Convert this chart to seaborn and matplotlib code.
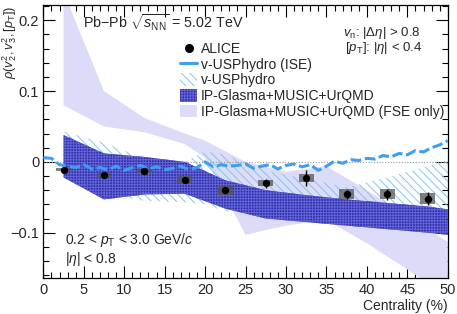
import numpy as np
import pandas as pd
import seaborn as sns
import matplotlib.pyplot as plt
from matplotlib.patches import Patch
from matplotlib.lines import Line2D
from matplotlib.ticker import MultipleLocator

# ALICE data
cent = [2.5, 7.5, 12.5, 17.5, 22.5, 27.5, 32.5, 37.5, 42.5, 47.5]
rho_alice = [-0.011, -0.019, -0.013, -0.025, -0.040, -0.030, -0.023, -0.046, -0.046, -0.052]
stat_err = [0.002, 0.003, 0.003, 0.003, 0.004, 0.0065, 0.011, 0.0065, 0.008, 0.009]
syst_err = [0.002, 0.003, 0.003, 0.0047, 0.0064, 0.0047, 0.006, 0.007, 0.007, 0.008]

# v-USPhydro (ISE) curve
ise_x = list(range(0, 51))
ise_y = [0.006, 0.005, -0.004, -0.006, -0.008, -0.004, -0.010, -0.008, -0.011, -0.006,
         -0.012, -0.008, -0.005, -0.010, -0.007, -0.011, -0.009, -0.006, -0.011, -0.008,
         0.000, -0.007, -0.004, -0.006, -0.005, -0.003, -0.009, -0.006, -0.004, -0.010,
         -0.005, -0.003, -0.007, -0.004, -0.012, -0.006, 0.001, -0.002, 0.003, 0.002,
         0.005, 0.004, 0.009, 0.007, 0.012, 0.010, 0.016, 0.014, 0.020, 0.024, 0.030]

# v-USPhydro band
hydro_x = [2.5, 7.5, 12.5, 17.5, 20, 22.5, 27.5, 32.5, 37.5, 42.5, 47.5, 50]
hydro_hi = [0.043, 0.027, 0.005, 0.0, 0.015, 0.010, -0.012, -0.024, -0.036, -0.022, -0.006, 0.003]
hydro_lo = [-0.005, -0.045, -0.055, -0.057, -0.060, -0.070, -0.068, -0.070, -0.070, -0.070, -0.070, -0.070]

# IP-Glasma+MUSIC+UrQMD band
ipg_x = [2.5, 7.5, 12.5, 17.5, 22.5, 27.5, 32.5, 37.5, 42.5, 47.5, 50]
ipg_hi = [0.038, 0.012, 0.007, 0.0, -0.026, -0.040, -0.047, -0.053, -0.058, -0.063, -0.067]
ipg_lo = [-0.022, -0.053, -0.046, -0.045, -0.066, -0.080, -0.085, -0.090, -0.095, -0.100, -0.103]

# IP-Glasma+MUSIC+UrQMD (FSE only) band
fse_x = [2.5, 7.5, 12.5, 17.5, 20, 25, 30, 35, 40, 45, 50]
fse_hi = [0.24, 0.10, 0.062, 0.040, 0.030, 0.0, -0.014, -0.006, -0.040, -0.077, -0.113]
fse_lo = [0.08, 0.05, 0.042, 0.025, 0.006, -0.103, -0.090, -0.082, -0.115, -0.152, -0.190]

sns.set_theme(style="ticks")
plt.rcParams['font.family'] = ['Liberation Sans', 'DejaVu Sans']
plt.rcParams['mathtext.fontset'] = 'custom'
plt.rcParams['mathtext.rm'] = 'Liberation Sans'
plt.rcParams['mathtext.it'] = 'Liberation Sans:italic'
plt.rcParams['hatch.linewidth'] = 0.7

c_ise = '#3d9ff0'
c_hatch = '#86c4ee'
c_ipg = '#3030aa'
c_fse = '#dcdcf8'
fs = 10

fig = plt.figure(figsize=(4.57, 3.14), dpi=100)
ax = fig.add_axes([0.0948, 0.1156, 0.885, 0.8675])

ax.fill_between(fse_x, fse_lo, fse_hi, facecolor=c_fse, edgecolor='none', lw=0, zorder=1)
ax.fill_between(hydro_x, hydro_lo, hydro_hi, facecolor='none', edgecolor=c_hatch,
                hatch='\\\\\\\\', lw=0, zorder=2)
ax.fill_between(ipg_x, ipg_lo, ipg_hi, facecolor=c_ipg, edgecolor='#6464d8',
                hatch='++++++', lw=0, zorder=3)

ax.axhline(0, color='#999999', lw=0.8, ls=(0, (1, 1.5)), zorder=2.5)

ise = pd.DataFrame({'cent': ise_x, 'rho': ise_y})
sns.lineplot(data=ise, x='cent', y='rho', ax=ax, color=c_ise, lw=2.2,
             dashes=False, zorder=4)
ax.lines[-1].set_linestyle((0, (3.5, 1.2)))

alice = pd.DataFrame({'cent': cent, 'rho': rho_alice, 'stat': stat_err, 'syst': syst_err})
ax.bar(alice['cent'], 2 * alice['syst'], bottom=alice['rho'] - alice['syst'], width=1.85,
       color='#555555', alpha=0.75, lw=0, zorder=5)
ax.errorbar(alice['cent'], alice['rho'], yerr=alice['stat'], fmt='none', ecolor='black',
            elinewidth=1, capsize=0, zorder=6)
sns.scatterplot(data=alice, x='cent', y='rho', ax=ax, color='black', s=28,
                edgecolor='black', linewidth=0, zorder=7)

ax.set_xlim(0, 50)
ax.set_ylim(-0.1636, 0.2212)
ax.xaxis.set_major_locator(MultipleLocator(5))
ax.xaxis.set_minor_locator(MultipleLocator(1))
ax.yaxis.set_major_locator(MultipleLocator(0.1))
ax.yaxis.set_minor_locator(MultipleLocator(0.02))
ax.set_yticks([-0.1, 0, 0.1, 0.2])
ax.set_yticklabels(['\u22120.1', '0', '0.1', '0.2'])
ax.tick_params(which='both', direction='in', top=True, right=True, labelsize=10.5,
               color='black', width=0.8)
ax.tick_params(which='major', length=8.5)
ax.tick_params(which='minor', length=4.5)
ax.tick_params(axis='x', pad=4)
ax.tick_params(axis='y', pad=3)
for s in ax.spines.values():
    s.set_color('black')
    s.set_linewidth(0.9)

ax.set_xlabel('Centrality (%)', fontsize=fs, loc='right', labelpad=1)
ax.set_ylabel(r'$\rho(v_2^2,v_3^2,[p_{\mathrm{T}}])$', fontsize=9.2, loc='top')
ax.yaxis.set_label_coords(-0.059, 1.0)

ax.text(0.098, 0.938, r'Pb$-$Pb $\sqrt{s_{\mathrm{NN}}}$ = 5.02 TeV', transform=ax.transAxes,
        fontsize=10.3, va='center', ha='left')
ax.text(0.741, 0.898, r'$v_{\mathrm{n}}$: |$\Delta\eta$| > 0.8', transform=ax.transAxes,
        fontsize=9.5, va='center', ha='left')
ax.text(0.747, 0.845, r'[$p_{\mathrm{T}}$]: |$\eta$| < 0.4', transform=ax.transAxes,
        fontsize=9.5, va='center', ha='left')
ax.text(0.054, 0.138, r'0.2 < $p_{\mathrm{T}}$ < 3.0 GeV/$c$', transform=ax.transAxes,
        fontsize=fs, va='center', ha='left')
ax.text(0.054, 0.068, r'|$\eta$| < 0.8', transform=ax.transAxes,
        fontsize=fs, va='center', ha='left')

handles = [
    Line2D([], [], marker='o', color='black', ls='none', markersize=5.5),
    Line2D([], [], color=c_ise, lw=2.2),
    Patch(facecolor='none', edgecolor=c_hatch, hatch='\\\\\\\\', lw=0),
    Patch(facecolor=c_ipg, edgecolor='#6464d8', hatch='++++++', lw=0),
    Patch(facecolor=c_fse, edgecolor='none', lw=0),
]
labels = ['ALICE', 'v-USPhydro (ISE)', 'v-USPhydro', 'IP-Glasma+MUSIC+UrQMD',
          'IP-Glasma+MUSIC+UrQMD (FSE only)']
ax.legend(handles, labels, loc='upper left', bbox_to_anchor=(0.338, 0.865), frameon=False,
          fontsize=fs, handlelength=1.25, handleheight=1.0, handletextpad=0.25,
          labelspacing=0.12, borderaxespad=0, borderpad=0)

fig.savefig('out.png', dpi=100)
